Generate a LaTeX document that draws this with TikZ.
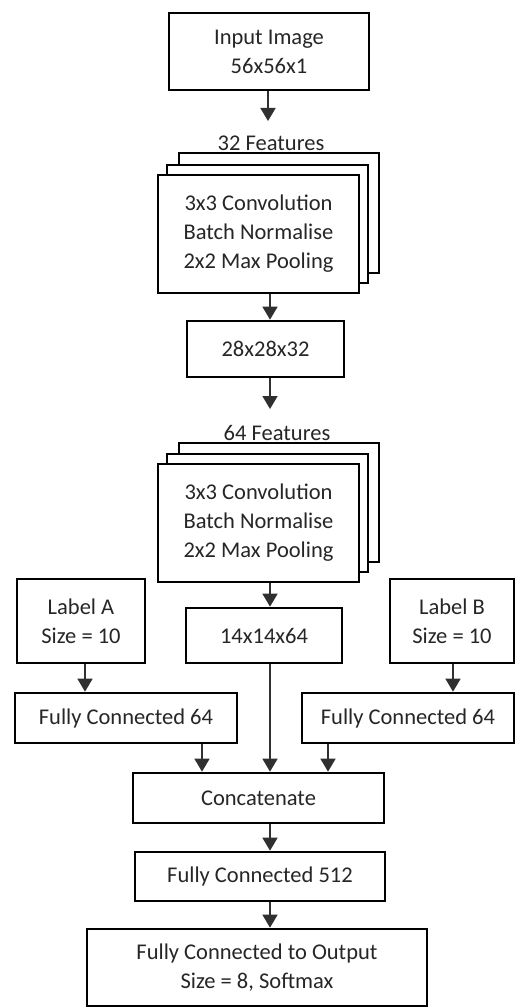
\documentclass[tikz,border=0pt]{standalone}
\usepackage{fontspec}
\setmainfont{Carlito}
\usetikzlibrary{arrows.meta}
\definecolor{txt}{HTML}{262626}
\definecolor{con}{HTML}{303030}
\tikzset{
  blk/.style={draw=black, line width=2.7pt, fill=white, inner sep=0pt, align=center,
    text=txt, font=\fontsize{22.5}{29}\selectfont},
  lbl/.style={inner sep=0pt, text=txt, font=\fontsize{22.5}{29}\selectfont},
  arr/.style={draw=con, line width=1.8pt, -{Triangle[length=13pt,width=15pt]}},
}
\newcommand{\bx}[6]{% name, x1,y1,x2,y2, text
  \node[blk, minimum width={(#4)-(#2)}, minimum height={(#5)-(#3)}]
    (#1) at ({((#2)+(#4))/2},{((#3)+(#5))/2}) {#6};}
\begin{document}
\begin{tikzpicture}[x=1pt,y=-1pt]
\useasboundingbox (0,0) rectangle (516,1008);
% input
\bx{inp}{169}{13}{369}{90}{Input Image\\56x56x1}
\node[lbl] (f32) at (271,143) {32 Features};
% stack 1
\bx{s1c}{179}{153}{379}{273}{}
\bx{s1b}{167}{165}{368}{283}{}
\bx{s1a}{158}{175}{359}{293}{3x3 Convolution\\Batch Normalise\\2x2 Max Pooling}
\bx{b28}{187}{321}{344}{377}{28x28x32}
\node[lbl] (f64) at (277,433) {64 Features};
% stack 2
\bx{s2c}{179}{443}{379}{562}{}
\bx{s2b}{167}{454}{368}{572}{}
\bx{s2a}{158}{464}{359}{582}{3x3 Convolution\\Batch Normalise\\2x2 Max Pooling}
\bx{b14}{186}{608}{342}{663}{14x14x64}
% labels
\bx{labA}{17}{579}{145}{663}{Label A\\Size = 10}
\bx{labB}{390}{579}{514}{663}{Label B\\Size = 10}
\bx{fcA}{15}{693}{237}{743}{Fully Connected 64}
\bx{fcB}{302}{693}{514}{743}{Fully Connected 64}
\bx{cat}{133}{773}{384}{823}{Concatenate}
\bx{fc5}{135}{852}{385}{901}{Fully Connected 512}
\bx{out}{87}{929}{427}{1006}{Fully Connected to Output\\Size = 8, Softmax}
% connectors
\draw[arr] (inp.south -| 268,0) -- (268,121);
\draw[arr] (s1a.south -| 270,0) -- (b28.north -| 270,0);
\draw[arr] (b28.south -| 270,0) -- (270,409);
\draw[arr] (s2a.south -| 270,0) -- (b14.north -| 270,0);
\draw[arr] (b14.south -| 270,0) -- (cat.north -| 270,0);
\draw[arr] (labA.south -| 85,0) -- (fcA.north -| 85,0);
\draw[arr] (labB.south -| 453,0) -- (fcB.north -| 453,0);
\draw[arr] (fcA.south -| 202,0) -- (cat.north -| 202,0);
\draw[arr] (fcB.south -| 328,0) -- (cat.north -| 328,0);
\draw[arr] (cat.south -| 270,0) -- (fc5.north -| 270,0);
\draw[arr] (fc5.south -| 270,0) -- (out.north -| 270,0);
\end{tikzpicture}
\end{document}
